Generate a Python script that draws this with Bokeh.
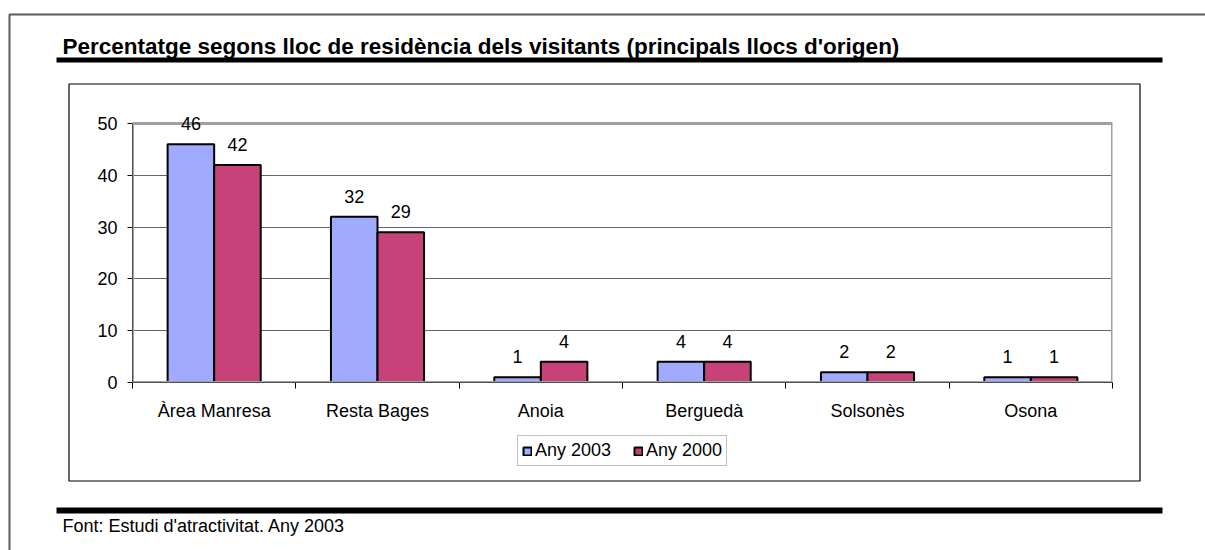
import numpy as np
from bokeh.plotting import figure
from bokeh.models import (Range1d, FixedTicker, ColumnDataSource, LabelSet, Legend,
                          LegendItem, BoxAnnotation, Label)
from bokeh.transform import dodge
from bokeh.core.properties import value
from bokeh.embed import file_html
from bokeh.resources import INLINE

# ---- data ----
categories = ["Àrea Manresa", "Resta Bages", "Anoia", "Berguedà", "Solsonès", "Osona"]
any_2003 = [46, 32, 1, 4, 2, 1]
any_2000 = [42, 29, 4, 4, 2, 1]
series_names = ["Any 2003", "Any 2000"]
y_ticks = [0, 10, 20, 30, 40, 50]
title_text = "Percentatge segons lloc de residència dels visitants (principals llocs d'origen)"
source_text = "Font: Estudi d'atractivitat. Any 2003"

# ---- layout constants ----
W, H = 1205, 550
FONT = "Liberation Sans"
FS = "18px"
C2003 = "#A0AAFF"
C2000 = "#C8427A"
BAR_STYLE = dict(line_color="black", line_width=2)

# ================= decoration layer (page-pixel coordinates) =================
deco = figure(width=W, height=H, output_backend="svg", toolbar_location=None, title=None,
              x_range=Range1d(0, W), y_range=Range1d(H, 0),
              x_axis_type=None, y_axis_type=None, min_border=0)
deco.outline_line_color = None
deco.background_fill_color = "white"
deco.border_fill_color = "white"

def box(l, r, t, b, **kw):
    deco.add_layout(BoxAnnotation(left=l, right=r, top=t, bottom=b, **kw))

box(9, W + 50, 14, H + 50, fill_color=None, line_color="#5A5A5A", line_width=2, line_alpha=1)
box(68.5, 1139.5, 83.5, 480.5, fill_color=None, line_color="black", line_width=1.2, line_alpha=1)
box(56, 1162, 57, 62, fill_color="black", fill_alpha=1, line_color=None)
box(56, 1162, 507, 513, fill_color="black", fill_alpha=1, line_color=None)

deco.add_layout(Label(x=62, y=46, text=title_text, text_baseline="alphabetic",
                      text_font=FONT, text_font_size="22.5px", text_font_style="bold",
                      text_color="black"))
deco.add_layout(Label(x=62, y=525, text=source_text, text_baseline="alphabetic",
                      text_font=FONT, text_font_size=FS, text_color="black"))

# legend swatches (legend-only proxy renderers, nothing drawn on the canvas)
proxy = ColumnDataSource(dict(x=np.array([np.nan]), top=np.array([np.nan])))
k1 = deco.vbar(x="x", top="top", width=1, source=proxy, fill_color=C2003, **BAR_STYLE)
k2 = deco.vbar(x="x", top="top", width=1, source=proxy, fill_color=C2000, **BAR_STYLE)
legend = Legend(items=[LegendItem(label=series_names[0], renderers=[k1]),
                       LegendItem(label=series_names[1], renderers=[k2])],
                location=(517, H - 466), orientation="horizontal",
                label_text_font=FONT, label_text_font_size=FS, label_text_color="black",
                glyph_width=10, glyph_height=10, label_standoff=3, spacing=22,
                padding=4, margin=0, border_line_color="#808080", border_line_width=1,
                background_fill_color="white", background_fill_alpha=1)
deco.add_layout(legend)

# ================= chart layer (overlaid on the decoration layer) =================
n = len(categories)
pos = [i + 0.5 for i in range(n)]
src = ColumnDataSource(dict(
    x=pos, a=any_2003, b=any_2000,
    a_lbl=[str(v) for v in any_2003], b_lbl=[str(v) for v in any_2000]))

FL, FR, FB = 132, 1112, 382
YMAX = 56
FT = FB - round((FB - 123) * YMAX / y_ticks[-1])

p = figure(width=W, height=H, output_backend="svg", toolbar_location=None, title=None,
           x_range=Range1d(0, n), y_range=Range1d(0, YMAX),
           min_border_left=FL, min_border_right=W - FR,
           min_border_top=FT, min_border_bottom=H - FB)
p.background_fill_color = None
p.border_fill_color = None
p.outline_line_color = None
p.styles = {"position": "absolute", "top": "0px", "left": "0px"}

# grid (inner lines)
p.xgrid.visible = False
p.ygrid.ticker = FixedTicker(ticks=y_ticks[1:-1])
p.ygrid.grid_line_color = "#666666"
p.ygrid.grid_line_width = 1

# plot-area border (top and right edges visible; left/bottom covered by axes)
p.add_layout(BoxAnnotation(left=0, right=n, bottom=y_ticks[0], top=y_ticks[-1],
                           fill_color=None, line_color="#A0A0A0", line_width=3,
                           line_alpha=1))

# y axis
yax = p.yaxis[0]
yax.ticker = FixedTicker(ticks=y_ticks)
yax.bounds = (y_ticks[0], y_ticks[-1])
yax.axis_line_color = "black"
yax.axis_line_width = 1
yax.major_tick_line_color = "black"
yax.major_tick_out = 5
yax.major_tick_in = 0
yax.minor_tick_line_color = None
yax.major_label_standoff = 10
yax.major_label_text_font = FONT
yax.major_label_text_font_size = FS
yax.major_label_text_color = "black"

# x axis (labels at centres, tick marks at boundaries)
xax = p.xaxis[0]
xax.ticker = FixedTicker(ticks=pos, minor_ticks=list(range(n + 1)))
xax.major_label_overrides = {pv: c for pv, c in zip(pos, categories)}
xax.axis_line_color = "black"
xax.axis_line_width = 1
xax.major_tick_line_color = None
xax.major_tick_out = 0
xax.major_tick_in = 0
xax.minor_tick_line_color = "black"
xax.minor_tick_out = 6
xax.minor_tick_in = 0
xax.major_label_standoff = 12
xax.major_label_text_font = FONT
xax.major_label_text_font_size = FS
xax.major_label_text_color = "black"

# bars
p.vbar(x=dodge("x", -0.1425, range=p.x_range), top="a", width=0.285, source=src,
       fill_color=C2003, **BAR_STYLE)
p.vbar(x=dodge("x", 0.1425, range=p.x_range), top="b", width=0.285, source=src,
       fill_color=C2000, **BAR_STYLE)

# value labels
for col, lbl, d in (("a", "a_lbl", -0.1425), ("b", "b_lbl", 0.1425)):
    p.add_layout(LabelSet(x=dodge("x", d, range=p.x_range), y=col, text=lbl, source=src,
                          text_align="center", text_baseline="alphabetic", y_offset=14,
                          text_font=value(FONT), text_font_size=FS, text_color="black"))

open("out.html", "w").write(file_html([deco, p], INLINE))
